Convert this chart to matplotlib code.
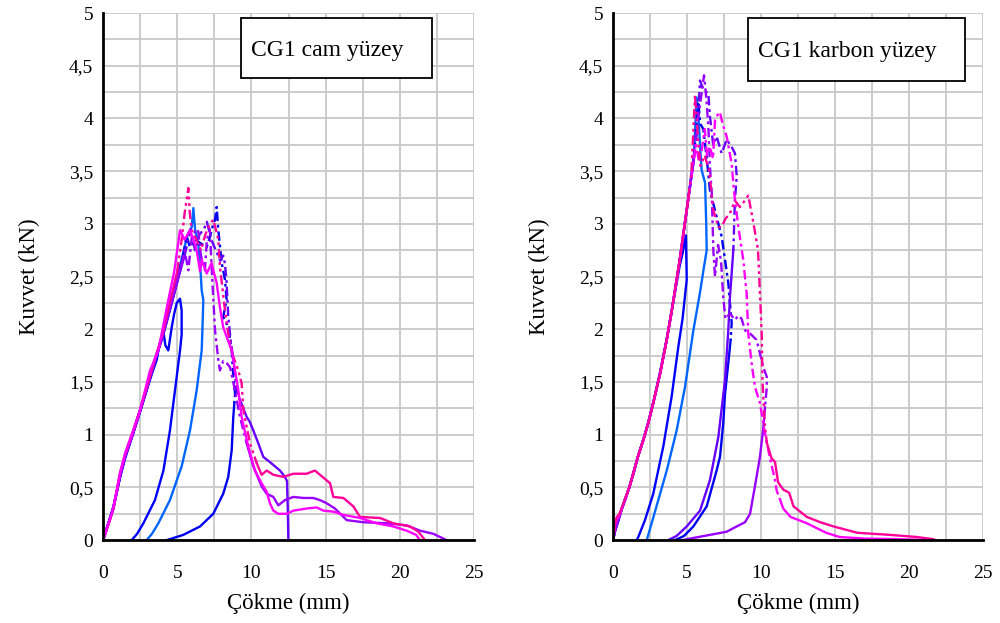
import matplotlib
matplotlib.use('Agg')
import matplotlib.pyplot as plt
from matplotlib.ticker import MultipleLocator, FuncFormatter
from matplotlib.patches import Rectangle

plt.rcParams['font.family'] = ['Liberation Serif', 'DejaVu Serif']

# ---------------- data: CG1 cam yüzey (left) ----------------
LA_x = [0, 0.15, 0.45, 0.7, 1.15, 1.5, 2.0, 2.5, 3.0, 3.3, 3.62, 3.8, 4.06, 4.2, 4.4, 4.63, 4.8, 4.97, 5.19, 5.3, 5.3, 5.19, 4.85, 4.51, 4.07, 3.5, 2.72, 2.3, 1.93]
LA_y = [0, 0.07, 0.2, 0.32, 0.6, 0.78, 1.0, 1.22, 1.45, 1.58, 1.71, 1.85, 1.99, 1.85, 1.8, 2.02, 2.15, 2.25, 2.29, 2.18, 1.95, 1.8, 1.42, 1.04, 0.66, 0.38, 0.16, 0.06, 0]

LB_x = [0, 0.15, 0.45, 0.7, 1.15, 1.5, 2.0, 2.5, 3.0, 3.5, 4.0, 4.5, 5.0, 5.4, 5.7, 5.98, 6.09, 6.2, 6.42, 6.54, 6.65, 6.76, 6.7, 6.65, 6.31, 5.86, 5.3, 4.51, 3.73, 3.3, 2.94]
LB_y = [0, 0.06, 0.19, 0.3, 0.62, 0.8, 1.02, 1.24, 1.47, 1.72, 1.93, 2.2, 2.5, 2.72, 2.9, 2.97, 3.15, 2.95, 2.81, 2.63, 2.37, 2.28, 2.0, 1.8, 1.42, 1.04, 0.7, 0.38, 0.16, 0.06, 0]

LC_x = [0, 0.15, 0.45, 0.7, 1.15, 1.5, 2.0, 2.5, 3.0, 3.5, 4.0, 4.5, 5.0, 5.4, 5.64, 5.86, 6.2, 6.65, 6.99, 7.21, 7.43, 7.55, 7.66, 7.77, 8.0, 8.22, 8.33, 8.1, 8.44, 8.67, 8.78, 8.9, 8.85, 8.78, 8.67, 8.44, 8.1, 7.43, 6.54, 5.41, 4.29]
LC_y = [0, 0.07, 0.2, 0.31, 0.6, 0.8, 1.0, 1.22, 1.45, 1.7, 1.92, 2.18, 2.45, 2.7, 2.88, 2.78, 2.85, 2.81, 2.78, 2.88, 3.0, 3.04, 3.16, 2.94, 2.63, 2.47, 2.28, 2.12, 2.02, 1.8, 1.55, 1.39, 1.3, 1.17, 0.85, 0.6, 0.44, 0.25, 0.13, 0.05, 0]

LD_x = [0, 0.15, 0.45, 0.7, 1.15, 1.5, 2.0, 2.5, 3.0, 3.5, 4.0, 4.5, 5.0, 5.5, 5.9, 6.2, 6.5, 6.8, 7.0, 7.3, 7.6, 7.9, 8.1, 8.22, 8.33, 8.44, 8.6, 8.78, 9.0, 9.23, 9.68, 9.9, 10.13, 10.46, 10.8, 11.25, 11.93, 12.26, 12.4, 12.45, 12.49]
LD_y = [0, 0.06, 0.2, 0.3, 0.6, 0.79, 1.0, 1.23, 1.46, 1.71, 1.92, 2.18, 2.45, 2.7, 2.95, 2.75, 2.9, 2.95, 3.02, 2.85, 2.75, 2.65, 2.7, 2.62, 2.44, 2.12, 1.9, 1.71, 1.42, 1.33, 1.17, 1.12, 1.04, 0.92, 0.79, 0.74, 0.66, 0.6, 0.56, 0.3, 0]

LE_x = [0, 0.15, 0.45, 0.7, 1.15, 1.5, 2.0, 2.5, 3.0, 3.5, 4.0, 4.5, 5.0, 5.3, 5.5, 5.75, 6.0, 6.4, 6.6, 6.87, 7.0, 7.2, 7.35, 7.55, 7.77, 7.88, 8.1, 8.33, 8.56, 8.78, 9.23, 9.68, 10.13, 10.69, 11.03, 11.48, 11.81, 12.26, 12.83, 13.5, 14.17, 14.62, 15.07, 15.63, 16.42, 17.54, 19.1, 20.46, 21.36, 22.26, 23.16]
LE_y = [0, 0.07, 0.19, 0.3, 0.61, 0.8, 1.0, 1.23, 1.46, 1.7, 1.93, 2.2, 2.45, 2.62, 2.75, 2.56, 2.9, 2.95, 2.7, 2.56, 2.85, 2.95, 2.5, 1.99, 1.71, 1.61, 1.7, 1.68, 1.64, 1.5, 1.17, 0.92, 0.7, 0.51, 0.44, 0.41, 0.33, 0.38, 0.41, 0.4, 0.4, 0.38, 0.35, 0.3, 0.19, 0.17, 0.16, 0.14, 0.09, 0.06, 0]

LF_x = [0, 0.13, 0.3, 0.47, 0.7, 1.15, 1.5, 2.0, 2.49, 3.0, 3.5, 4.0, 4.5, 5.0, 5.3, 5.5, 5.75, 5.85, 5.98, 6.3, 6.6, 6.9, 7.2, 7.43, 7.6, 7.77, 7.88, 8.0, 8.22, 8.44, 8.78, 9.12, 9.34, 9.46, 9.9, 10.36, 10.69, 11.03, 11.48, 12.15, 12.83, 13.72, 14.28, 14.62, 15.3, 15.52, 16.2, 16.87, 17.32, 18.67, 19.56, 20.69, 21.25, 21.7]
LF_y = [0, 0.05, 0.12, 0.19, 0.3, 0.64, 0.82, 1.02, 1.23, 1.48, 1.72, 1.95, 2.25, 2.55, 2.85, 3.1, 3.34, 3.1, 2.94, 2.85, 2.75, 2.9, 3.0, 3.04, 2.95, 2.85, 2.59, 2.45, 2.18, 1.96, 1.74, 1.61, 1.49, 1.23, 0.92, 0.73, 0.62, 0.66, 0.62, 0.6, 0.63, 0.63, 0.66, 0.62, 0.54, 0.41, 0.4, 0.32, 0.22, 0.21, 0.16, 0.13, 0.08, 0]

LG_x = [0, 0.13, 0.3, 0.47, 0.7, 1.15, 1.5, 2.0, 2.49, 3.17, 3.73, 4.29, 4.8, 5.19, 5.5, 5.86, 6.1, 6.31, 6.54, 6.65, 6.99, 7.32, 7.43, 7.55, 7.66, 7.88, 8.1, 8.33, 8.67, 8.9, 9.12, 9.34, 9.79, 10.24, 10.69, 11.03, 11.25, 11.48, 11.81, 12.38, 12.83, 13.72, 14.4, 14.85, 15.52, 16.2, 17.32, 18.44, 19.56, 20.46, 21.1, 21.36]
LG_y = [0, 0.05, 0.13, 0.2, 0.31, 0.64, 0.83, 1.03, 1.23, 1.61, 1.8, 2.2, 2.55, 2.94, 2.85, 2.94, 2.85, 2.75, 2.55, 2.66, 2.53, 2.63, 2.56, 2.5, 2.44, 2.21, 2.02, 1.93, 1.8, 1.61, 1.42, 1.17, 0.89, 0.66, 0.54, 0.46, 0.35, 0.28, 0.25, 0.25, 0.28, 0.3, 0.31, 0.28, 0.27, 0.24, 0.21, 0.16, 0.13, 0.09, 0.05, 0]

# ---------------- data: CG1 karbon yüzey (right) ----------------
RA_x = [0, 0.15, 0.36, 0.6, 0.81, 1.1, 1.37, 1.7, 2.05, 2.4, 2.72, 3.18, 3.63, 4.0, 4.5, 4.7, 4.93, 4.98, 4.7, 4.41, 3.96, 3.4, 2.72, 2.16, 1.71, 1.6]
RA_y = [0, 0.1, 0.19, 0.3, 0.38, 0.5, 0.63, 0.8, 0.95, 1.12, 1.3, 1.58, 1.9, 2.2, 2.6, 2.72, 2.89, 2.47, 2.1, 1.83, 1.36, 0.89, 0.44, 0.19, 0.03, 0]

RB_x = [0, 0.15, 0.36, 0.6, 0.81, 1.1, 1.37, 1.7, 2.05, 2.4, 2.72, 3.18, 3.63, 4.0, 4.5, 5.1, 5.45, 5.65, 5.76, 5.9, 5.99, 6.22, 6.3, 6.33, 6.1, 5.88, 5.43, 4.86, 4.3, 3.63, 3.06, 2.61, 2.28]
RB_y = [0, 0.09, 0.18, 0.3, 0.38, 0.5, 0.62, 0.8, 0.96, 1.12, 1.3, 1.6, 1.9, 2.2, 2.65, 3.25, 3.6, 4.2, 4.05, 3.7, 3.51, 3.39, 3.0, 2.75, 2.55, 2.35, 1.99, 1.45, 1.04, 0.66, 0.38, 0.16, 0]

RC_x = [0, 0.15, 0.36, 0.6, 0.81, 1.1, 1.37, 1.7, 2.05, 2.4, 2.72, 3.18, 3.63, 4.0, 4.5, 5.1, 5.45, 5.6, 5.76, 5.9, 6.1, 6.35, 6.55, 6.89, 7.12, 7.34, 7.57, 7.79, 7.9, 8.02, 7.95, 7.79, 7.57, 7.45, 7.23, 7.0, 6.33, 5.43, 4.8, 4.19]
RC_y = [0, 0.1, 0.19, 0.3, 0.39, 0.5, 0.64, 0.8, 0.95, 1.13, 1.3, 1.58, 1.91, 2.2, 2.64, 3.25, 3.62, 3.85, 4.16, 3.95, 3.9, 3.6, 3.32, 3.13, 3.0, 2.88, 2.66, 2.44, 2.25, 2.06, 1.9, 1.68, 1.39, 1.11, 0.79, 0.66, 0.32, 0.13, 0.04, 0]

RD_x = [0, 0.15, 0.36, 0.6, 0.81, 1.1, 1.37, 1.7, 2.05, 2.4, 2.72, 3.18, 3.63, 4.0, 4.5, 5.1, 5.45, 5.7, 5.88, 6.1, 6.44, 6.55, 6.77, 7.0, 7.34, 7.68, 8.02, 8.24, 8.36, 8.24, 8.13, 7.9, 7.79, 7.57, 7.12, 6.55, 5.88, 4.98, 4.3, 3.74]
RD_y = [0, 0.1, 0.2, 0.3, 0.38, 0.5, 0.63, 0.8, 0.95, 1.12, 1.31, 1.58, 1.9, 2.21, 2.65, 3.26, 3.6, 3.9, 4.36, 4.27, 4.24, 4.02, 3.75, 3.83, 3.67, 3.8, 3.73, 3.67, 3.45, 3.23, 2.75, 2.3, 1.99, 1.52, 0.98, 0.57, 0.28, 0.13, 0.04, 0]

RE_x = [0, 0.15, 0.36, 0.6, 0.81, 1.1, 1.37, 1.7, 2.05, 2.4, 2.72, 3.18, 3.63, 4.0, 4.5, 5.1, 5.45, 5.7, 5.95, 6.15, 6.3, 6.45, 6.55, 6.67, 6.78, 6.89, 7.1, 7.3, 7.45, 7.6, 7.9, 8.24, 8.47, 8.69, 8.92, 9.26, 9.7, 9.93, 10.16, 10.39, 10.39, 10.27, 10.16, 9.93, 9.59, 9.26, 8.92, 8.36, 7.68, 6.55, 5.4, 4.7]
RE_y = [0, 0.09, 0.19, 0.3, 0.38, 0.5, 0.63, 0.8, 0.95, 1.12, 1.3, 1.58, 1.9, 2.2, 2.65, 3.25, 3.6, 3.95, 4.2, 4.41, 4.2, 3.9, 3.54, 3.3, 2.75, 2.5, 2.8, 2.65, 2.3, 2.1, 2.15, 2.09, 2.13, 2.1, 1.99, 1.96, 1.9, 1.77, 1.64, 1.55, 1.45, 1.26, 1.07, 0.79, 0.51, 0.25, 0.17, 0.13, 0.08, 0.05, 0.02, 0]

RF_x = [0, 0.13, 0.25, 0.4, 0.6, 0.81, 1.1, 1.37, 1.7, 2.05, 2.4, 2.72, 3.18, 3.63, 4.0, 4.5, 5.1, 5.4, 5.6, 5.8, 6.0, 6.2, 6.35, 6.55, 6.76, 6.89, 7.12, 7.23, 7.4, 7.68, 8.02, 8.13, 8.24, 8.47, 8.8, 9.03, 9.14, 9.4, 9.6, 9.93, 10.27, 10.6, 10.9, 11.06, 11.3, 11.5, 12.0, 13.1, 14.4, 15.3, 17.0, 19.0, 21.5]
RF_y = [0, 0.16, 0.2, 0.22, 0.3, 0.38, 0.5, 0.63, 0.8, 0.95, 1.12, 1.3, 1.58, 1.9, 2.2, 2.65, 3.25, 3.55, 3.75, 3.6, 3.7, 3.9, 3.65, 3.73, 3.62, 3.98, 4.05, 4.06, 3.95, 3.83, 3.57, 3.38, 3.23, 2.97, 2.66, 2.34, 1.96, 1.64, 1.45, 1.3, 1.01, 0.78, 0.6, 0.47, 0.38, 0.3, 0.22, 0.16, 0.07, 0.03, 0.015, 0.01, 0]

RG_x = [0, 0.13, 0.25, 0.4, 0.6, 0.81, 1.1, 1.37, 1.7, 2.05, 2.4, 2.72, 3.18, 3.63, 4.0, 4.5, 5.1, 5.3, 5.54, 5.7, 5.9, 6.2, 6.5, 6.78, 7.12, 7.34, 7.6, 7.9, 8.24, 8.58, 8.9, 9.14, 9.5, 9.8, 9.9, 10.05, 10.1, 10.25, 10.4, 10.7, 10.95, 11.15, 11.5, 11.9, 12.2, 13.1, 14.0, 14.9, 16.5, 18.7, 20.5, 21.6, 21.8]
RG_y = [0, 0.14, 0.22, 0.24, 0.31, 0.39, 0.5, 0.63, 0.8, 0.95, 1.12, 1.3, 1.58, 1.9, 2.2, 2.65, 3.25, 3.5, 4.22, 3.9, 3.55, 3.65, 3.5, 3.13, 2.97, 2.97, 3.05, 3.1, 3.22, 3.16, 3.22, 3.27, 3.0, 2.75, 2.43, 1.96, 1.52, 1.1, 0.92, 0.78, 0.74, 0.55, 0.48, 0.45, 0.32, 0.22, 0.17, 0.13, 0.07, 0.05, 0.03, 0.01, 0]

x_ticks = [0, 5, 10, 15, 20, 25]
y_ticks = [0, 0.5, 1, 1.5, 2, 2.5, 3, 3.5, 4, 4.5, 5]
panel_titles = ['CG1 cam yüzey', 'CG1 karbon yüzey']
x_label = 'Çökme (mm)'
y_label = 'Kuvvet (kN)'

# ---------------- styles ----------------
DASHDOT = (0, (4, 1.6, 1.2, 1.6))
DASHDOTDOT = (0, (4, 1.6, 1.2, 1.6, 1.2, 1.6))
LW = 1.7
left_series = [
    (LA_x, LA_y, '#0000ff', '-', None),
    (LB_x, LB_y, '#0066ff', '-', None),
    (LC_x, LC_y, '#0000ee', DASHDOT, (13, 32)),
    (LD_x, LD_y, '#6600ff', DASHDOT, (13, 29)),
    (LE_x, LE_y, '#9900ff', DASHDOT, (13, 31)),
    (LF_x, LF_y, '#ff0099', DASHDOTDOT, (13, 35)),
    (LG_x, LG_y, '#ff00ff', '-', None),
]
right_series = [
    (RA_x, RA_y, '#0000ff', '-', None),
    (RB_x, RB_y, '#0066ff', '-', None),
    (RC_x, RC_y, '#0000ee', DASHDOT, (16, 30)),
    (RD_x, RD_y, '#6600ff', DASHDOT, (16, 30)),
    (RE_x, RE_y, '#9900ff', DASHDOT, (16, 41)),
    (RF_x, RF_y, '#ff00ff', DASHDOT, (16, 44)),
    (RG_x, RG_y, '#ff0099', DASHDOTDOT, (16, 38)),
]

fig = plt.figure(figsize=(10, 6.23), dpi=100)
axL = fig.add_axes([0.103, 0.133, 0.371, 0.846])
axR = fig.add_axes([0.613, 0.133, 0.370, 0.846])

fmt = FuncFormatter(lambda v, _: ('%g' % v).replace('.', ','))


def draw(ax, series):
    for x, y, c, ls, span in series:
        if span is None:
            ax.plot(x, y, color=c, lw=LW, ls='-', zorder=3)
        else:
            i0, i1 = span
            ax.plot(x[:i0 + 1], y[:i0 + 1], color=c, lw=LW, ls='-', zorder=3)
            ax.plot(x[i0:i1 + 1], y[i0:i1 + 1], color=c, lw=LW, ls=ls, zorder=3)
            ax.plot(x[i1:], y[i1:], color=c, lw=LW, ls='-', zorder=3)


def setup(ax, title, box, txt_x):
    ax.set_xlim(0, 25)
    ax.set_ylim(0, 5)
    ax.set_xticks(x_ticks)
    ax.set_yticks(y_ticks)
    ax.xaxis.set_minor_locator(MultipleLocator(2.5))
    ax.yaxis.set_minor_locator(MultipleLocator(0.25))
    ax.xaxis.set_major_formatter(fmt)
    ax.yaxis.set_major_formatter(fmt)
    ax.grid(which='both', color='#c8c8c8', lw=1.3)
    ax.set_axisbelow(True)
    for s in ('top', 'right'):
        ax.spines[s].set_visible(False)
    for s in ('left', 'bottom'):
        ax.spines[s].set_color('black')
        ax.spines[s].set_linewidth(2)
        ax.spines[s].set_zorder(4)
    ax.tick_params(which='both', length=0, labelsize=14)
    ax.tick_params(axis='y', pad=7)
    ax.tick_params(axis='x', pad=18)
    ax.set_xlabel(x_label, fontsize=16.5, labelpad=8)
    ax.set_ylabel(y_label, fontsize=16.5, labelpad=21)
    x0, x1, y0, y1 = box
    ax.add_patch(Rectangle((x0, y0), x1 - x0, y1 - y0, facecolor='white',
                           edgecolor='black', lw=1.3, zorder=5, clip_on=False))
    ax.text(txt_x, (y0 + y1) / 2 - 0.02, title, fontsize=17, va='center', ha='left', zorder=6)


draw(axL, left_series)
draw(axR, right_series)
setup(axL, panel_titles[0], (9.3, 22.17, 4.38, 4.95), 9.95)
setup(axR, panel_titles[1], (9.12, 23.78, 4.36, 4.95), 9.8)

fig.savefig('out.png', dpi=100)
